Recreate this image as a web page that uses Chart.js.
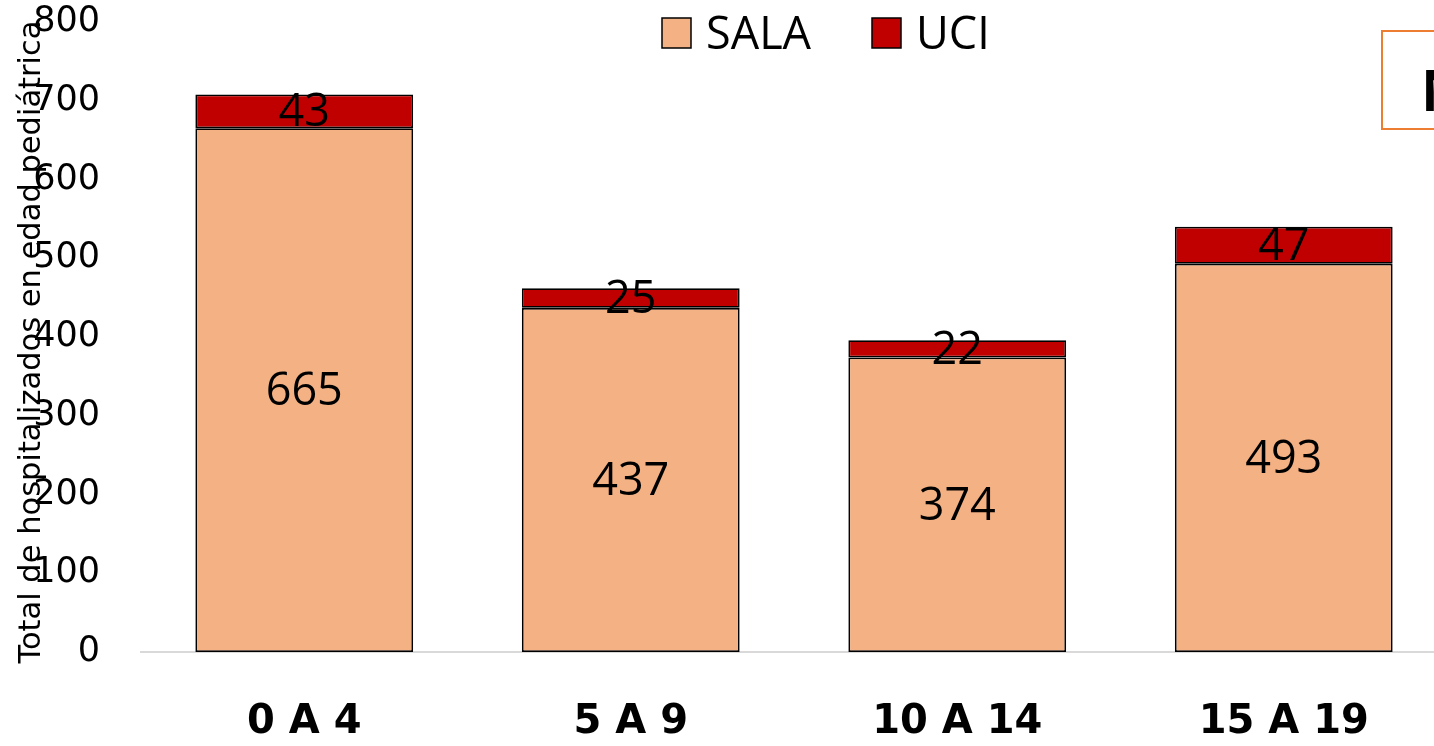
<!DOCTYPE html>
<html>
<head>
<meta charset="utf-8">
<script src="https://cdn.jsdelivr.net/npm/chart.js@4"></script>
<style>
  html, body { margin: 0; padding: 0; background: #fff; overflow: hidden; }
  #wrap { width: 1460px; height: 746px; }
</style>
</head>
<body>
<div id="wrap"><canvas id="myChart" width="1460" height="746"></canvas></div>
<script>
const categories = ["0 A 4", "5 A 9", "10 A 14", "15 A 19"];
const sala = [665, 437, 374, 493];
const uci = [43, 25, 22, 47];
const yTicks = [0, 100, 200, 300, 400, 500, 600, 700, 800];

const SALA_COLOR = "#F4B183";
const UCI_COLOR = "#C00000";

// value labels centred in each segment
const barLabels = {
  id: "barLabels",
  afterDatasetsDraw(chart) {
    const c = chart.ctx;
    c.save();
    c.font = "45px 'Open Sans'";
    c.fillStyle = "#000";
    c.textAlign = "center";
    c.textBaseline = "middle";
    chart.data.datasets.forEach((ds, i) => {
      chart.getDatasetMeta(i).data.forEach((bar, j) => {
        c.fillText(ds.data[j], bar.x, (bar.y + bar.base) / 2 + 2);
      });
    });
    c.restore();
  },
};

// legend, axis title and the cut-off box on the right
const extras = {
  id: "extras",
  afterDraw(chart) {
    const c = chart.ctx;
    c.save();
    // legend
    const items = [
      { label: "SALA", color: SALA_COLOR, x: 662 },
      { label: "UCI", color: UCI_COLOR, x: 872 },
    ];
    c.font = "45px 'Open Sans'";
    c.textBaseline = "alphabetic";
    c.textAlign = "left";
    items.forEach((it) => {
      c.fillStyle = it.color;
      c.fillRect(it.x, 18, 29, 30);
      c.strokeStyle = "#000";
      c.lineWidth = 1.5;
      c.strokeRect(it.x, 18, 29, 30);
      c.fillStyle = "#000";
      c.fillText(it.label, it.x + 44, 49);
    });

    // y axis title, overlapping the ticks
    c.translate(32, 342);
    c.rotate(-Math.PI / 2);
    c.font = "30.5px 'DejaVu Sans'";
    c.textAlign = "center";
    c.textBaseline = "middle";
    c.fillText("Total de hospitalizados en edad pediátrica", 0, 0);
    c.setTransform(1, 0, 0, 1, 0, 0);

    // box at the top right
    c.strokeStyle = "#ED7D31";
    c.lineWidth = 2;
    c.strokeRect(1382, 31, 200, 98);
    c.fillStyle = "#000";
    c.font = "bold 57px 'Open Sans'";
    c.textAlign = "left";
    c.textBaseline = "alphabetic";
    c.fillText("N", 1421, 111);
    c.restore();
  },
};

new Chart(document.getElementById("myChart"), {
  type: "bar",
  data: {
    labels: categories,
    datasets: [
      {
        label: "SALA",
        data: sala,
        backgroundColor: SALA_COLOR,
        borderColor: "#000",
        borderWidth: 1.8,
        borderSkipped: false,
      },
      {
        label: "UCI",
        data: uci,
        backgroundColor: UCI_COLOR,
        borderColor: "#000",
        borderWidth: 1.8,
        borderSkipped: false,
      },
    ],
  },
  options: {
    responsive: false,
    animation: false,
    layout: { padding: { top: 22, right: 13, left: 0, bottom: 0 } },
    datasets: { bar: { barPercentage: 0.667, categoryPercentage: 1 } },
    plugins: { legend: { display: false }, tooltip: { enabled: false } },
    scales: {
      x: {
        stacked: true,
        grid: { display: false, drawTicks: false },
        border: { display: true, color: "#D9D9D9", width: 2 },
        ticks: {
          color: "#000",
          font: { family: "DejaVu Sans", size: 40, weight: "bold" },
          padding: 47,
        },
        afterFit(scale) {
          scale.height = 94;
          scale.paddingLeft = 0;
          scale.paddingRight = 0;
        },
      },
      y: {
        stacked: true,
        min: 0,
        max: 800,
        afterBuildTicks(scale) { scale.ticks = yTicks.map((v) => ({ value: v })); },
        grid: { display: false, drawTicks: false },
        border: { display: false },
        ticks: {
          color: "#000",
          font: { family: "DejaVu Sans", size: 35 },
          padding: 41,
        },
        afterFit(scale) {
          scale.width = 141;
          scale.paddingTop = 0;
          scale.paddingBottom = 0;
        },
      },
    },
  },
  plugins: [barLabels, extras],
});
</script>
</body>
</html>
